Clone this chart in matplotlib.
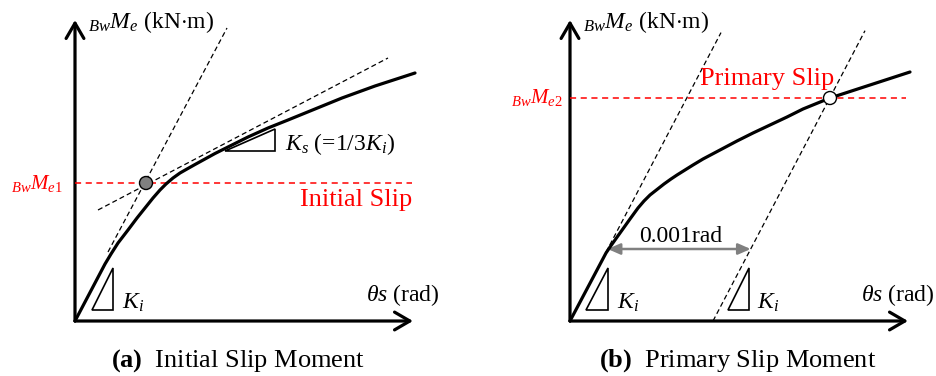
import matplotlib
matplotlib.use("Agg")
import matplotlib.pyplot as plt
from matplotlib.patches import FancyArrowPatch, Polygon, Circle
import numpy as np

plt.rcParams['font.family'] = ['Liberation Serif', 'DejaVu Serif']
plt.rcParams['mathtext.fontset'] = 'custom'
plt.rcParams['mathtext.rm'] = 'Liberation Serif'
plt.rcParams['mathtext.it'] = 'Liberation Serif:italic'
plt.rcParams['mathtext.bf'] = 'Liberation Serif:bold'

# schematic units: origin of each panel at (0, 0), one unit = one pixel
# (a) initial slip
curve_a_x = [0, 30, 36, 43, 53, 62, 70, 78, 85, 91, 98, 105, 112, 120, 130, 140,
             156, 173, 193, 213, 240, 267, 300, 340]
curve_a_y = [0, 57, 67, 78, 91, 103, 113, 123, 131, 137, 143, 148, 152, 156.5, 162, 167.5,
             175.5, 184, 193, 201, 212, 223, 235, 248]
ki_line_a = ([33, 152], [69, 293])
ks_line_a = ([23, 313], [111, 263])
slip_a = (71, 138)

# (b) primary slip
curve_b_x = [0, 36, 40, 50, 60, 68, 74, 80, 87, 94, 101, 107, 115, 123, 133, 150,
             167, 183, 200, 217, 233, 260, 300, 340]
curve_b_y = [0, 68, 74, 88, 102, 113, 120, 126, 131.5, 137, 142, 146, 151, 156, 162, 171,
             180, 188, 196, 204, 212, 223, 236, 249]
k_init = 1.91
offset = 143          # 0.001 rad
slip_b = (260, 223)

axis_len_x = 338
axis_len_y = 301


def panel(ax, x0):
    ax.set_xlim(-x0, 468 - x0)
    ax.set_ylim(-55, 321)
    ax.axis('off')
    for (a, b) in [((0, 0), (axis_len_x, 0)), ((0, 0), (0, axis_len_y))]:
        ax.add_patch(FancyArrowPatch(a, b, arrowstyle='->,head_length=0.55,head_width=0.32',
                                     mutation_scale=20, lw=2.3, color='black',
                                     shrinkA=0, shrinkB=0, clip_on=False))
    ax.text(13, 299, r'${}_{Bw}M_e$ (kN$\cdot$m)', fontsize=17, va='center', ha='left')
    ax.text(291, 26, r'$\theta s$ (rad)', fontsize=17, va='center', ha='left')


def triangle(ax, x, y, w, h, label, tx):
    ax.add_patch(Polygon([(x, y), (x + w, y), (x + w, y + h)], closed=True,
                         fill=False, ec='black', lw=1.2))
    ax.text(tx, 18, label, fontsize=17, va='center', ha='left')


fig = plt.figure(figsize=(9.36, 3.76), dpi=100)
ax_a = fig.add_axes([0, 0, 0.5, 1])
ax_b = fig.add_axes([0.5, 0, 0.5, 1])

# ---- (a)
panel(ax_a, 75)
ax_a.plot(*ki_line_a, ls=(0, (4, 2.5)), color='black', lw=0.9)
ax_a.plot(*ks_line_a, ls=(0, (4, 2.5)), color='black', lw=0.9)
ax_a.plot([0, 337], [slip_a[1]] * 2, ls=(0, (4, 3)), color='red', lw=1.1)
ax_a.plot(curve_a_x, curve_a_y, color='black', lw=2.3,
          solid_capstyle='round', solid_joinstyle='round')
ax_a.add_patch(Circle(slip_a, 6.5, fc='#808080', ec='black', lw=1.0, zorder=5))
ax_a.text(-12, slip_a[1], r'${}_{Bw}M_{e1}$', color='red', fontsize=15, ha='right', va='center')
ax_a.text(337, 121, 'Initial Slip', color='red', fontsize=19, ha='right', va='center')
triangle(ax_a, 17, 11, 21, 42, r'$K_i$', 47)
ax_a.add_patch(Polygon([(150, 170), (200, 170), (200, 192)], closed=True,
                       fill=False, ec='black', lw=1.2))
ax_a.text(210, 177, r'$K_s$ (=1/3$K_i$)', fontsize=17, va='center', ha='left')
ax_a.text(163, -40, r'$\mathbf{(a)}$  Initial Slip Moment', fontsize=19, ha='center', va='center')

# ---- (b)
panel(ax_b, 102)
xs = np.array([36, 151])
ax_b.plot(xs, k_init * xs, ls=(0, (4, 2.5)), color='black', lw=0.9)
xs2 = np.array([offset, 295])
ax_b.plot(xs2, k_init * (xs2 - offset), ls=(0, (4, 2.5)), color='black', lw=0.9)
ax_b.plot([0, 336], [slip_b[1]] * 2, ls=(0, (4, 3)), color='red', lw=1.1)
ax_b.plot(curve_b_x, curve_b_y, color='black', lw=2.3,
          solid_capstyle='round', solid_joinstyle='round')
ax_b.add_patch(Circle(slip_b, 6.5, fc='white', ec='black', lw=1.0, zorder=5))
ya = 72
ax_b.add_patch(FancyArrowPatch((ya / k_init, ya), (offset + ya / k_init, ya),
                               arrowstyle='<|-|>,head_length=0.5,head_width=0.22',
                               mutation_scale=15, lw=1.8, color='#808080',
                               shrinkA=0, shrinkB=0))
ax_b.text(111, 84, '0.001rad', fontsize=17, ha='center', va='center')
ax_b.text(-7, slip_b[1], r'${}_{Bw}M_{e2}$', color='red', fontsize=15, ha='right', va='center')
ax_b.text(130, 242, 'Primary Slip', color='red', fontsize=19, ha='left', va='center')
triangle(ax_b, 16, 11, 22, 42, r'$K_i$', 47)
triangle(ax_b, 158, 11, 21, 42, r'$K_i$', 187)
ax_b.text(168, -40, r'$\mathbf{(b)}$  Primary Slip Moment', fontsize=19, ha='center', va='center')

fig.savefig('out.png', dpi=100)
